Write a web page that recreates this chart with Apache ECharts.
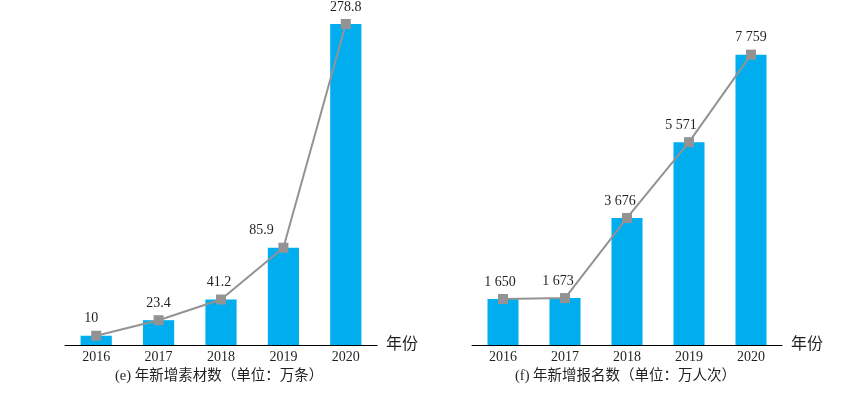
<!DOCTYPE html>
<html>
<head>
<meta charset="utf-8">
<script src="https://cdn.jsdelivr.net/npm/echarts@6/dist/echarts.min.js"></script>
<style>
html,body{margin:0;padding:0;background:#fff;}
#c{width:855px;height:395px;}
</style>
</head>
<body>
<div id="c"></div>
<script>
const years = ['2016', '2017', '2018', '2019', '2020'];
const materials = [10, 23.4, 41.2, 85.9, 278.8];      // 万条
const signups = [1650, 1673, 3676, 5571, 7759];        // 万人次
const captionLeft = '(e) 年新增素材数（单位：万条）';
const captionRight = '(f) 年新增报名数（单位：万人次）';
const axisName = '年份';

const BAR = '#00aeef';
const LINE = '#939393';
const TXT = '#231f20';
const SERIF = '"Liberation Serif", "Noto Sans CJK SC", serif';
const CJK = '"Liberation Serif", "Noto Sans CJK SC", serif';

const leftShift = [[-5, 0], [0, 0], [-2, 0], [-22, 0], [0, 0]];
const rightShift = [[-3, 0], [-7, 0], [-7, 0], [-8, 0], [0, 0]];

function fmtSpace(v) {
  return String(v).replace(/\B(?=(\d{3})+(?!\d))/g, ' ');
}

function xAxisCfg(gi) {
  return {
    type: 'category', gridIndex: gi, data: years,
    axisTick: { show: false },
    axisLine: { lineStyle: { color: '#000', width: 1 } },
    axisLabel: { color: TXT, fontFamily: SERIF, fontSize: 14, margin: 5 },
    name: axisName, nameLocation: 'end', nameGap: 9,
    nameTextStyle: { color: TXT, fontFamily: CJK, fontSize: 16, verticalAlign: 'middle' }
  };
}
function yAxisCfg(gi, min, max) {
  return { type: 'value', gridIndex: gi, min: min, max: max, show: false, splitLine: { show: false } };
}
function lineSeries(idx, data, shifts, fmt) {
  return {
    type: 'line', xAxisIndex: idx, yAxisIndex: idx,
    data: data.map((v, i) => ({ value: v, label: { offset: shifts[i] } })),
    symbol: 'rect', symbolSize: 10,
    itemStyle: { color: LINE },
    lineStyle: { color: LINE, width: 2 },
    z: 5,
    label: {
      show: true, position: 'top', distance: 5,
      color: TXT, fontFamily: SERIF, fontSize: 14,
      formatter: p => fmt(p.value)
    }
  };
}

const chart = echarts.init(document.getElementById('c'), null, { renderer: 'canvas' });
chart.setOption({
  animation: false,
  backgroundColor: '#fff',
  grid: [
    { left: 65, width: 312, top: 24, height: 321 },
    { left: 472, width: 310, top: 25, height: 320 }
  ],
  xAxis: [xAxisCfg(0), xAxisCfg(1)],
  yAxis: [yAxisCfg(0, 2, 278.8), yAxisCfg(1, 500, 8500)],
  series: [
    { type: 'bar', xAxisIndex: 0, yAxisIndex: 0, data: materials, barWidth: '50%', itemStyle: { color: BAR } },
    lineSeries(0, materials, leftShift, v => String(v)),
    { type: 'bar', xAxisIndex: 1, yAxisIndex: 1, data: signups, barWidth: '50%', itemStyle: { color: BAR } },
    lineSeries(1, signups, rightShift, fmtSpace)
  ],
  graphic: [
    { type: 'text', left: 115, top: 369, style: { text: captionLeft, fill: TXT, font: '14.5px ' + CJK } },
    { type: 'text', left: 515, top: 369, style: { text: captionRight, fill: TXT, font: '14.5px ' + CJK } }
  ]
});
</script>
</body>
</html>
